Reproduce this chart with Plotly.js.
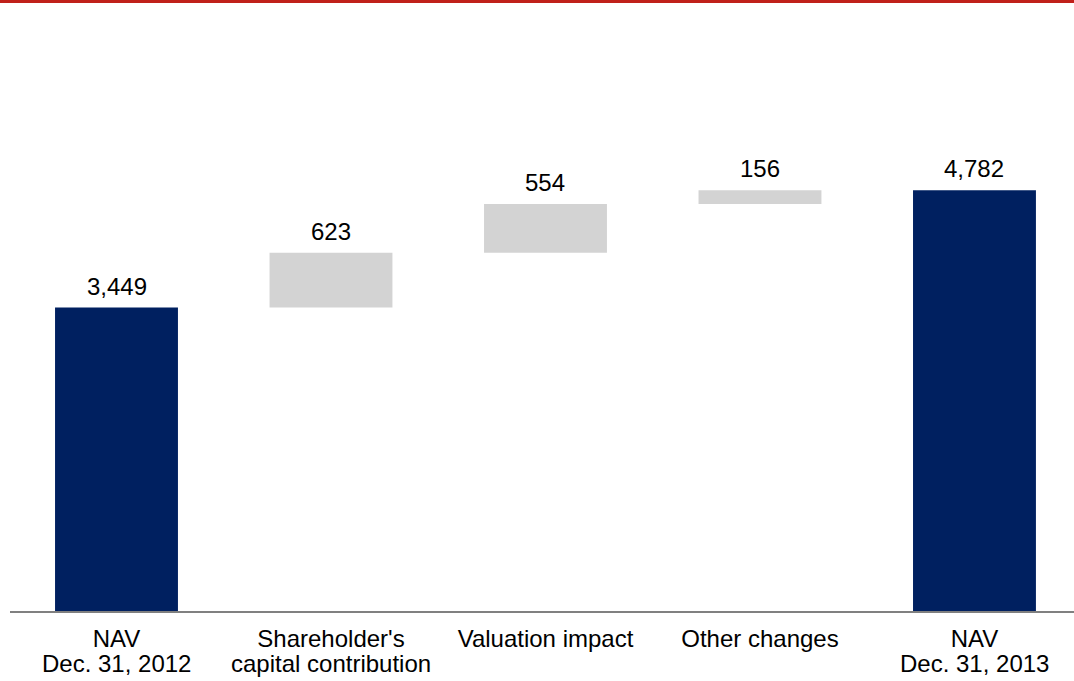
<!DOCTYPE html>
<html>
<head>
<meta charset="utf-8">
<script src="https://cdn.plot.ly/plotly-3.0.1.min.js"></script>
<style>html,body{margin:0;padding:0;background:#fff;}#chart{width:1074px;height:681px;}</style>
</head>
<body>
<div id="chart"></div>
<script>
// ---- data ----
const categories = ["NAV Dec. 31, 2012", "Shareholder's capital contribution", "Valuation impact", "Other changes", "NAV Dec. 31, 2013"];
const labelLine1 = ["NAV", "Shareholder's", "Valuation impact", "Other changes", "NAV"];
const labelLine2 = ["Dec. 31, 2012", "capital contribution", "", "", "Dec. 31, 2013"];
const values = [3449, 623, 554, 156, 4782];
const measures = ["absolute", "relative", "relative", "relative", "total"];

// ---- derived ----
const ends = [];
let run = 0;
values.forEach((v, i) => {
  if (measures[i] === "absolute") run = v;
  else if (measures[i] === "relative") run += v;
  ends.push(run);
});
const fmt = v => v.toLocaleString("en-US");

const FONT = "Liberation Sans, Arial, sans-serif";
const FS = 24;
const xRange = [-0.4965, 4.464];

const trace = {
  type: "waterfall",
  x: categories,
  y: values,
  measure: measures,
  increasing: { marker: { color: "#D3D3D3" } },
  decreasing: { marker: { color: "#D3D3D3" } },
  totals: { marker: { color: "#002060" } },
  connector: { visible: false },
  textposition: "none",
  hoverinfo: "skip"
};

const valueLabels = categories.map((c, i) => ({
  x: c, y: ends[i], xref: "x", yref: "y",
  text: fmt(measures[i] === "total" ? ends[i] : values[i]),
  showarrow: false, yanchor: "bottom", yshift: 6,
  font: { family: FONT, size: FS, color: "#000" }
}));

const secondLines = categories.map((c, i) => ({
  x: c, y: 0, xref: "x", yref: "y",
  text: labelLine2[i],
  showarrow: false, yanchor: "top", yshift: -37,
  font: { family: FONT, size: FS, color: "#000" }
})).filter(a => a.text);

const layout = {
  width: 1074, height: 681,
  margin: { l: 10, r: 0, t: 0, b: 70, pad: 0 },
  paper_bgcolor: "#fff", plot_bgcolor: "#fff",
  showlegend: false,
  waterfallgap: 0.427,
  font: { family: FONT, size: FS, color: "#000" },
  xaxis: {
    type: "category",
    categoryorder: "array", categoryarray: categories,
    range: xRange,
    tickvals: categories, ticktext: labelLine1,
    showline: true, linecolor: "#808080", linewidth: 2,
    showgrid: false, zeroline: false,
    ticks: "outside", ticklen: 5, tickcolor: "rgba(0,0,0,0)",
    tickfont: { family: FONT, size: FS, color: "#000" },
    fixedrange: true
  },
  yaxis: {
    range: [0, 6945],
    visible: false, showgrid: false, zeroline: false,
    fixedrange: true
  },
  shapes: [{
    type: "rect", xref: "paper", yref: "paper",
    x0: -0.02, x1: 1.02, y0: 1 - 3 / 611, y1: 1,
    fillcolor: "#C0201A", line: { width: 0 }, layer: "above"
  }],
  annotations: valueLabels.concat(secondLines)
};

Plotly.newPlot("chart", [trace], layout, { displayModeBar: false, staticPlot: true });
</script>
</body>
</html>
